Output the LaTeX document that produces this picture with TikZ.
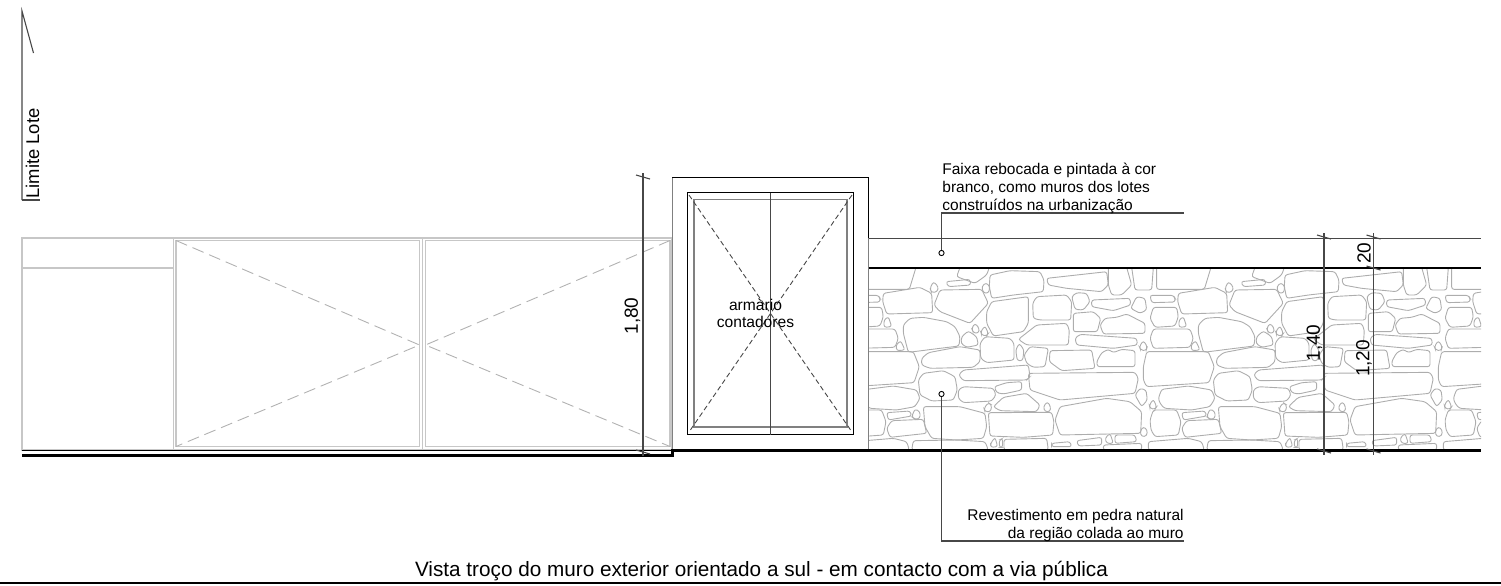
\documentclass[tikz,border=0pt]{standalone}
\usepackage{fontspec}
\setmainfont{Liberation Sans}
\definecolor{stonegray}{gray}{0.68}
\definecolor{gategray}{gray}{0.78}
\definecolor{dashgray}{gray}{0.7}
\definecolor{dimgray}{gray}{0.28}
\tikzset{
    stoneline/.style={draw=stonegray,line width=0.45pt,rounded corners=1.2pt},
    gateline/.style={draw=gategray,line width=0.7pt},
    gatedash/.style={draw=dashgray,line width=0.45pt,dash pattern=on 6pt off 3pt},
    dimline/.style={draw=dimgray,line width=0.55pt},
    dimlabel/.style={rotate=90,font=\fontsize{9.5}{11}\selectfont,inner sep=0pt},
    notetext/.style={font=\fontsize{7.75}{9}\selectfont,inner sep=0pt,align=left},
    leaderdot/.style={circle,draw=black,line width=0.45pt,fill=white,inner sep=0pt,minimum size=2.6pt},
    groundline/.style={draw=black,line width=1.2pt}
}
\newcommand{\stonetile}{
    \draw[stoneline] (5,112)--(5,178)--(148,178)--(168,112);
    \draw[stoneline] (300,112)--(290,140)--(345,160)--(380,135)--(388,112);
    \draw[stoneline] (70,190)--(180,172)--(215,190)--(218,248)--(80,252)--(68,215)--cycle;
    \draw[stoneline] (-15,196)--(55,196)--(60,205)--(60,216)--(-10,218)--cycle;
    \draw[stoneline] (-5,232)--(65,232)--(70,260)--(60,288)--(0,292)--(-15,265)--cycle;
    \draw[stoneline] (72,270)--(85,260)--(95,290)--(72,292)--cycle;
    \draw[stoneline] (130,285)--(150,265)--(190,262)--(260,275)--(285,290)--(300,320)--(297,348)--(240,355)--(145,367)--(130,310)--cycle;
    \draw[stoneline] (-15,325)--(-5,297)--(105,297)--(115,325)--(105,352)--(-5,355)--cycle;
    \draw[stoneline] (108,345)--(122,332)--(135,360)--(110,362)--cycle;
    \draw[stoneline] (-35,410)--(-25,365)--(160,365)--(178,410)--(162,458)--(-25,470)--(-35,450)--cycle;
    \draw[stoneline] (10,505)--(20,478)--(100,468)--(170,480)--(180,505)--(165,530)--(110,540)--(28,535)--(15,520)--cycle;
    \draw[stoneline] (-15,570)--(-5,540)--(65,540)--(78,575)--(70,615)--(0,620)--(-12,600)--cycle;
    \draw[stoneline] (80,548)--(150,543)--(155,558)--(85,570)--cycle;
    \draw[stoneline] (155,560)--(165,537)--(180,545)--(180,565)--(165,568)--cycle;
    \draw[stoneline] (80,595)--(95,572)--(190,568)--(200,610)--(90,622)--cycle;
    \draw[stoneline] (-20,635)--(100,625)--(140,635)--(148,660)--(-20,660)--cycle;
    \draw[stoneline] (190,530)--(300,530)--(375,550)--(380,590)--(370,625)--(290,630)--(215,625)--(195,590)--cycle;
    \draw[stoneline] (175,450)--(190,430)--(250,422)--(285,440)--(292,480)--(280,510)--(215,513)--(180,495)--cycle;
    \draw[stoneline] (185,385)--(205,368)--(300,350)--(360,360)--(360,395)--(340,412)--(210,415)--(185,405)--cycle;
    \draw[stoneline] (303,340)--(305,320)--(325,303)--(350,320)--(355,345)--(320,352)--cycle;
    \draw[stoneline] (335,295)--(345,280)--(358,295)--(355,310)--(340,308)--cycle;
    \draw[stoneline] (362,305)--(375,288)--(385,310)--(380,318)--(365,315)--cycle;
    \draw[stoneline] (222,225)--(240,180)--(365,178)--(385,220)--(330,280)--(240,245)--cycle;
    \draw[stoneline] (210,175)--(220,155)--(235,170)--(232,185)--(215,188)--cycle;
    \draw[stoneline] (258,155)--(330,148)--(332,165)--(265,170)--cycle;
    \draw[stoneline] (390,135)--(450,122)--(540,125)--(552,150)--(550,185)--(460,195)--(395,205)--(388,170)--cycle;
    \draw[stoneline] (365,170)--(378,158)--(390,170)--(385,190)--(370,188)--cycle;
    \draw[stoneline] (380,245)--(395,215)--(505,200)--(505,280)--(490,305)--(400,318)--(380,280)--cycle;
    \draw[stoneline] (518,220)--(530,200)--(620,195)--(635,215)--(632,270)--(540,270)--(520,265)--cycle;
    \draw[stoneline] (560,145)--(740,125)--(745,165)--(725,185)--(620,175)--(565,165)--cycle;
    \draw[stoneline] (635,200)--(650,188)--(680,190)--(690,215)--(670,240)--(645,238)--cycle;
    \draw[stoneline] (695,210)--(810,205)--(812,225)--(760,242)--(695,230)--cycle;
    \draw[stoneline] (812,235)--(830,200)--(855,205)--(860,240)--(840,250)--cycle;
    \draw[stoneline] (745,112)--(745,165)--(755,195)--(785,195)--(815,165)--(800,112);
    \draw[stoneline] (815,112)--(825,180)--(875,180)--(880,112);
    \draw[stoneline] (640,250)--(700,245)--(722,265)--(712,305)--(640,305)--cycle;
    \draw[stoneline] (720,285)--(735,265)--(770,262)--(800,252)--(855,280)--(855,310)--(730,312)--cycle;
    \draw[stoneline] (475,328)--(530,285)--(620,280)--(628,300)--(625,345)--(500,345)--cycle;
    \draw[stoneline] (645,325)--(660,313)--(830,325)--(832,345)--(760,355)--(650,345)--cycle;
    \draw[stoneline] (360,340)--(375,320)--(450,325)--(462,340)--(462,390)--(380,398)--(362,385)--cycle;
    \draw[stoneline] (467,360)--(478,340)--(492,360)--(488,392)--(472,392)--cycle;
    \draw[stoneline] (492,375)--(510,350)--(565,355)--(555,410)--(520,412)--(500,400)--cycle;
    \draw[stoneline] (570,362)--(695,360)--(705,415)--(605,422)--(568,395)--cycle;
    \draw[stoneline] (710,395)--(725,368)--(745,358)--(760,368)--(785,358)--(825,362)--(825,410)--(712,410)--cycle;
    \draw[stoneline] (838,350)--(850,332)--(862,350)--(858,362)--(842,360)--cycle;
    \draw[stoneline] (296,435)--(310,420)--(505,405)--(510,440)--(500,450)--(310,452)--cycle;
    \draw[stoneline] (295,480)--(310,470)--(400,475)--(408,495)--(395,513)--(310,518)--(295,505)--cycle;
    \draw[stoneline] (403,470)--(440,458)--(485,455)--(485,480)--(430,492)--(410,488)--cycle;
    \draw[stoneline] (505,430)--(825,427)--(835,445)--(825,490)--(600,510)--(510,480)--cycle;
    \draw[stoneline] (400,530)--(430,502)--(500,490)--(540,525)--(530,545)--(420,542)--cycle;
    \draw[stoneline] (550,530)--(562,515)--(572,530)--(570,545)--(555,545)--cycle;
    \draw[stoneline] (372,535)--(385,518)--(395,525)--(392,545)--(375,545)--cycle;
    \draw[stoneline] (385,548)--(575,547)--(582,575)--(578,615)--(490,622)--(390,618)--cycle;
    \draw[stoneline] (585,570)--(600,530)--(740,505)--(810,515)--(845,545)--(842,610)--(600,615)--cycle;
    \draw[stoneline] (825,495)--(840,475)--(858,480)--(862,510)--(845,530)--cycle;
    \draw[stoneline] (840,605)--(850,590)--(862,600)--(860,618)--(845,620)--cycle;
    \draw[stoneline] (392,640)--(405,622)--(413,650)--(392,652)--cycle;
    \draw[stoneline] (418,630)--(428,625)--(428,652)--(418,652)--cycle;
    \draw[stoneline] (432,628)--(560,625)--(565,660)--(432,660)--cycle;
    \draw[stoneline] (575,640)--(630,635)--(635,650)--(575,650)--cycle;
    \draw[stoneline] (650,632)--(725,622)--(725,645)--(655,648)--cycle;
    \draw[stoneline] (735,625)--(750,610)--(760,640)--(740,640)--cycle;
    \draw[stoneline] (765,615)--(825,615)--(830,635)--(765,640)--cycle;
    \draw[stoneline] (730,645)--(845,640)--(845,660)--(730,660)--cycle;
    \draw[stoneline] (160,632)--(290,630)--(375,635)--(385,660)--(155,660)--cycle;
    \draw[stoneline] (868,525)--(880,508)--(890,530)--(885,538)--(870,535)--cycle;
}

\begin{document}
\begin{tikzpicture}[x=0.5pt,y=-0.5pt]
    \useasboundingbox (0,0) rectangle (1501,585);

    % stones
    \begin{scope}
        \clip (868,268) rectangle (1481,450);
        \foreach \k in {0,1,2} {
            \begin{scope}[shift={(860+295*\k,230)},scale=0.33333]
                \stonetile
            \end{scope}
        }
    \end{scope}

    % limite lote
    \draw[dimline] (22,200) -- (22,11) -- (33.5,53);
    \draw[dimline] (22,200) -- (40,200);
    \node[rotate=90,anchor=west,inner sep=0pt,font=\fontsize{9.2}{11}\selectfont] (limite) at (32.5,199) {Limite Lote};

    % gate
    \draw[gateline] (22,238) rectangle (672,450);
    \draw[gateline] (22,268) -- (173.5,268);
    \draw[gateline] (173.5,238) -- (173.5,450);
    \draw[gateline] (422.5,238) -- (422.5,450);
    \draw[gateline] (176,240.5) rectangle (419.5,446.5);
    \draw[gateline] (425.5,240.5) rectangle (670,446.5);
    \draw[gatedash] (176,240.5) -- (419.5,345) -- (176,446.5);
    \draw[gatedash] (670,240.5) -- (425.5,345) -- (670,446.5);
%    \draw[gateline] (22,450) -- (672,450);

    % cabinet
    \draw[line width=0.5pt] (672.5,450) -- (672.5,177.5) -- (868.5,177.5) -- (868.5,238);
    \draw[draw=gray,line width=0.8pt] (672.5,177.5) -- (672.5,450);
    \draw[draw=gray,line width=0.8pt] (868.5,238) -- (868.5,450);
    \draw[draw=gray,line width=0.9pt] (694,199.5) rectangle (847,427);
    \draw[line width=0.6pt] (687.5,192.5) rectangle (853.5,434.5);
    \draw[draw=dimgray,line width=0.75pt] (770.5,192.5) -- (770.5,434.5);
    \draw[draw=dimgray,line width=0.45pt,dash pattern=on 2.5pt off 1.5pt] (689,195) -- (852,432);
    \draw[draw=dimgray,line width=0.45pt,dash pattern=on 2.5pt off 1.5pt] (852,195) -- (689,432);
    \node[font=\fontsize{7.8}{8.6}\selectfont,align=center,inner sep=0pt] (armario) at (755.5,313) {armàrio\\contadores};

    % wall and ground
    \draw[draw=dimgray,line width=0.5pt] (868.5,238) -- (1481,238);
    \draw[line width=0.8pt] (868.5,268) -- (1481,268);
    \draw[groundline] (22,455.5) -- (672.5,455.5) -- (672.5,450.5) -- (1481,450.5);
    \draw[line width=0.45pt] (22,450) -- (672,450);

    % dimensions
    \coordinate (dimAtop) at (643,173);
    \coordinate (dimAbot) at (643,456);
    \draw[dimline] (dimAtop) -- (dimAbot);
    \draw[dimline] (636,175) -- (650,179);
    \draw[dimline] (636,450) -- (650,454);
    \node[dimlabel] (lblA) at (632.5,316) {1,80};

    \coordinate (dimBtop) at (1324,233);
    \coordinate (dimBbot) at (1324,455);
    \draw[dimline] (dimBtop) -- (dimBbot);
    \draw[dimline] (1317,235) -- (1331,239);
    \draw[dimline] (1317,449) -- (1331,453);
    \node[dimlabel] (lblB) at (1314.5,343) {1,40};

    \coordinate (dimCtop) at (1373.5,233);
    \coordinate (dimCbot) at (1373.5,455);
    \draw[dimline] (dimCtop) -- (dimCbot);
    \draw[dimline] (1366.5,235) -- (1380.5,239);
    \draw[dimline] (1366.5,266) -- (1380.5,270);
    \draw[dimline] (1366.5,449) -- (1380.5,453);
    \node[dimlabel] (lblC) at (1364,358.5) {1,20};
    \node[dimlabel] (lblD) at (1364,253) {20};

    % notes
    \node[leaderdot] (dotfaixa) at (941.5,253) {};
    \coordinate (kneefaixa) at (941.5,213);
    \coordinate (endfaixa) at (1184,213);
    \draw[dimline] (dotfaixa) -- (kneefaixa) -- (endfaixa);
    \node[notetext,anchor=south west] (notefaixa) at (942,214) {Faixa rebocada e pintada à cor\\branco, como muros dos lotes\\construídos na urbanização};

    \node[leaderdot] (dotpedra) at (941.5,394) {};
    \coordinate (kneepedra) at (941.5,541);
    \coordinate (endpedra) at (1184,541);
    \draw[dimline] (dotpedra) -- (kneepedra) -- (endpedra);
    \node[notetext,align=right,anchor=south east] (notepedra) at (1184,542) {Revestimento em pedra natural\\da região colada ao muro};

    % title
    \node[anchor=base,inner sep=0pt,font=\fontsize{10.36}{12}\selectfont] (title) at (761.5,576.5) {Vista troço do muro exterior orientado a sul - em contacto com a via pública};
    \draw[line width=0.6pt] (0,583) -- (1501,583);
\end{tikzpicture}
\end{document}
